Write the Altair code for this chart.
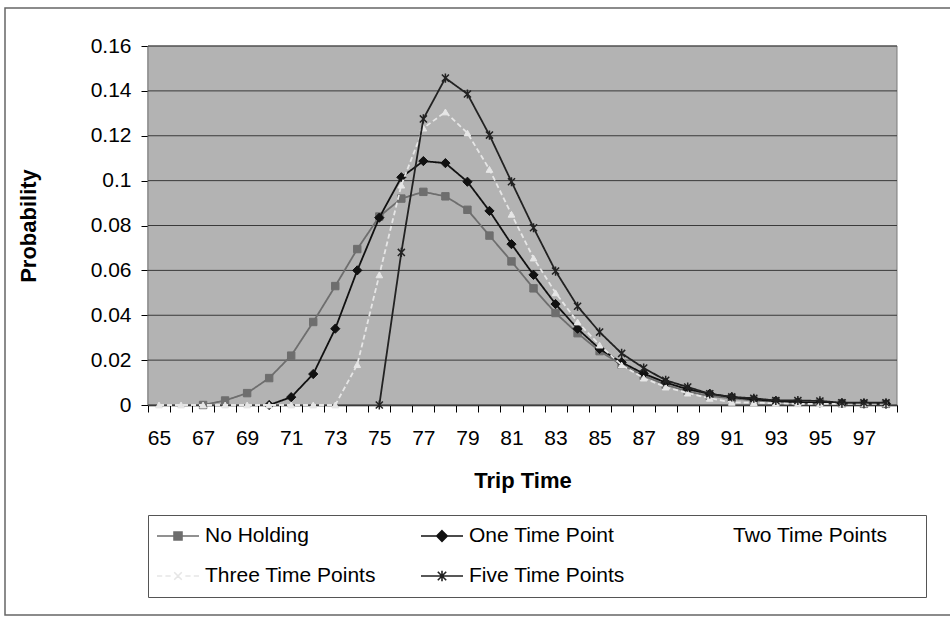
import altair as alt
import pandas as pd

# ---------------- data ----------------
trip_time = list(range(65, 99))

no_holding = [None, None, 0, 0.002, 0.0053, 0.012, 0.022, 0.037, 0.053, 0.0695,
              0.084, 0.092, 0.095, 0.093, 0.087, 0.0755, 0.064, 0.052, 0.041, 0.032,
              0.024, 0.018, 0.013, 0.009, 0.006, 0.004, 0.003, 0.002, 0.0015, 0.001,
              0.001, 0.0008, 0.0005, 0.0005]

one_time_point = [None, None, None, None, None, 0, 0.0035, 0.0138, 0.034, 0.060,
                  0.0835, 0.1015, 0.1087, 0.1078, 0.0995, 0.0865, 0.0717, 0.058, 0.045, 0.034,
                  0.025, 0.019, 0.014, 0.010, 0.007, 0.005, 0.0035, 0.0025, 0.0018, 0.0012,
                  0.001, 0.0008, 0.0006, 0.0005]

three_time_points = [0, 0, 0, 0, 0, 0, 0, 0, 0, 0.018,
                     0.058, 0.098, 0.1234, 0.1306, 0.1212, 0.105, 0.085, 0.0655, 0.050, 0.037,
                     0.0267, 0.0178, 0.012, 0.008, 0.0053, 0.003, 0.0012, 0.001, 0.0008, 0.0005,
                     0.0005, 0.0005, 0.0005, 0.0005]

five_time_points = [None, None, None, None, None, None, None, None, None, None,
                    0, 0.068, 0.1275, 0.1457, 0.1386, 0.1203, 0.0995, 0.079, 0.0597, 0.044,
                    0.0325, 0.023, 0.0165, 0.011, 0.008, 0.005, 0.0036, 0.003, 0.002, 0.002,
                    0.0018, 0.001, 0.001, 0.001]

series_names = ["No Holding", "One Time Point", "Two Time Points",
                "Three Time Points", "Five Time Points"]
series_colors = ["#6e6e6e", "#111111", "#ffffff", "#e6e6e6", "#222222"]

y_ticks = [0, 0.02, 0.04, 0.06, 0.08, 0.1, 0.12, 0.14, 0.16]
x_label_values = list(range(65, 98, 2))

series_values = {
    "No Holding": no_holding,
    "One Time Point": one_time_point,
    "Three Time Points": three_time_points,
    "Five Time Points": five_time_points,
}

rows = []
for name, vals in series_values.items():
    for t, v in zip(trip_time, vals):
        rows.append({"series": name, "time": t, "value": v})
df = pd.DataFrame(rows)
grid_df = pd.DataFrame({"tick": y_ticks})

# ---------------- styling ----------------
FONT = "Liberation Sans"
color_of = dict(zip(series_names, series_colors))

x_axis = alt.Axis(
    values=[t - 0.5 for t in trip_time] + [trip_time[-1] + 0.5],
    labelExpr=f"indexof({x_label_values}, datum.value + 0.5) >= 0 ? format(datum.value + 0.5, 'd') : ''",
    labelOffset=11, labelFlush=False, labelOverlap=False,
    tickSize=7, tickColor="black", tickWidth=1,
    domainColor="black", domainWidth=1.5,
    labelFont=FONT, labelFontSize=21, labelColor="black", labelPadding=15,
    title="Trip Time", titleFont=FONT, titleFontSize=22, titleFontWeight="bold",
    titleColor="black", titlePadding=22, grid=False,
)
y_axis = alt.Axis(
    values=y_ticks, format="~g", grid=False,
    tickSize=7, tickColor="black", domainColor="black", domainWidth=1.5,
    labelFont=FONT, labelFontSize=21, labelColor="black", labelPadding=10,
    title="Probability", titleFont=FONT, titleFontSize=22, titleFontWeight="bold",
    titleColor="black", titlePadding=50,
)

x_scale = alt.Scale(domain=[64.5, 98.5], nice=False, zero=False)
y_scale = alt.Scale(domain=[0, 0.16], nice=False, zero=True)
x_enc = alt.X("time:Q", scale=x_scale, axis=x_axis)
y_enc = alt.Y("value:Q", scale=y_scale, axis=y_axis)

# plot markers per series: (shape, size, filled, strokeWidth, dash)
plot_style = {
    "No Holding": ("square", 55, True, 1.0, [1, 0]),
    "One Time Point": ("diamond", 85, True, 1.0, [1, 0]),
    "Three Time Points": ("triangle-up", 45, True, 1.0, [5, 3]),
    "Five Time Points": ("M-1,-1L1,1M-1,1L1,-1M0,-1.3L0,1.3", 50, False, 1.5, [1, 0]),
}

# legend symbols: line + marker, path units scaled by sqrt(size)/2
legend_paths = [
    "M-1,0L1,0M-0.19,-0.19L0.19,-0.19L0.19,0.19L-0.19,0.19Z",
    "M-1,0L1,0M0,-0.25L0.25,0L0,0.25L-0.25,0Z",
    "M-1,0L1,0",
    "M-1,0L-0.75,0M-0.6,0L-0.35,0M0.35,0L0.6,0M0.75,0L1,0M-0.18,-0.18L0.18,0.18M-0.18,0.18L0.18,-0.18",
    "M-1,0L1,0M-0.2,-0.2L0.2,0.2M-0.2,0.2L0.2,-0.2M0,-0.25L0,0.25",
]

# legend entries; the third entry gets blank (braille-blank) padding so it sits far right
BL = "\u2800"
legend_names = [n if n != "Two Time Points" else BL + n + BL * 2 for n in series_names]

legend_def = alt.Legend(
    title=None, orient="none", legendX=0, legendY=469,
    direction="horizontal", columns=3, columnPadding=44, rowPadding=14,
    gridAlign="each", symbolSize=1764, symbolStrokeWidth=1.6, symbolOpacity=1,
    clipHeight=26,
    labelFont=FONT, labelFontSize=21, labelColor="black", labelLimit=500, labelOffset=5,
    padding=8, strokeColor="#555555", fillColor="white",
)

legend_color_scale = alt.Scale(domain=legend_names, range=series_colors)

layers = []

# plot-area background
layers.append(
    alt.Chart(alt.Data(values=[{"k": 1}])).mark_rect(fill="#b3b3b3", stroke="#7a7a7a", strokeWidth=1)
    .encode(x=alt.value(0), x2=alt.value(749), y=alt.value(0), y2=alt.value(359))
)
# horizontal gridlines
layers.append(
    alt.Chart(grid_df).mark_rule(color="#3a3a3a", strokeWidth=1)
    .encode(y=alt.Y("tick:Q", scale=y_scale, axis=y_axis))
)
# outer frame of the figure
layers.append(
    alt.Chart(alt.Data(values=[{"k": 1}])).mark_rect(
        fill="transparent", stroke="#666666", strokeWidth=1.5, clip=False
    ).encode(x=alt.value(-143), x2=alt.value(900), y=alt.value(-38), y2=alt.value(569))
)

for name in series_values:
    shape, size, filled, sw, dash = plot_style[name]
    col = color_of[name]
    base = alt.Chart(df).transform_filter(alt.datum.series == name)
    line = base.mark_line(color=col, strokeWidth=1.8, strokeDash=dash).encode(x=x_enc, y=y_enc)
    if filled:
        pts = base.mark_point(shape=shape, size=size, filled=True, opacity=1,
                              fill=col, stroke=col, strokeWidth=sw)
    else:
        pts = base.mark_point(shape=shape, size=size, filled=False, opacity=1,
                              stroke=col, strokeWidth=sw)
    layers.append(line)
    layers.append(pts.encode(x=x_enc, y=y_enc))

legend_df = pd.DataFrame({"series": legend_names})
legend_layer = alt.Chart(legend_df).transform_filter("false").mark_point(
    filled=True, opacity=1, strokeWidth=1.6
).encode(
    stroke=alt.Stroke("series:N", scale=legend_color_scale, legend=legend_def),
    fill=alt.Fill("series:N", scale=legend_color_scale, legend=legend_def),
    shape=alt.Shape("series:N", scale=alt.Scale(domain=legend_names, range=legend_paths), legend=legend_def),
)
layers.append(legend_layer)

chart = alt.layer(*layers).properties(
    width=749, height=359,
    autosize=alt.AutoSizeParams(type="none"),
    padding={"left": 148, "top": 46, "right": 53, "bottom": 212},
    background="white",
).configure_view(stroke=None)

chart.save("out.html", embed_options={"renderer": "svg", "actions": False})
